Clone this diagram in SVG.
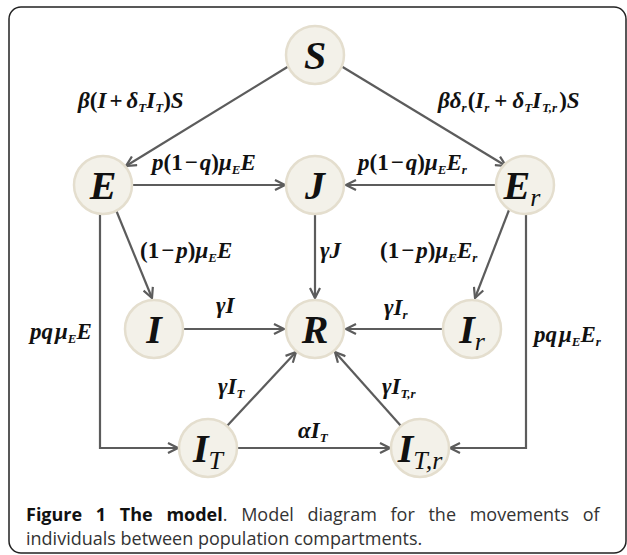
<svg xmlns="http://www.w3.org/2000/svg" width="627" height="555" viewBox="0 0 627 555">
<style>
.frame{fill:#fff;stroke:#222;stroke-width:1.5}
.node{fill:#f3f1e9;stroke:#e4dece;stroke-width:2.5}
.nl{font-family:"Liberation Serif",serif;font-weight:bold;font-style:italic;font-size:40px;fill:#111;text-anchor:middle}
.ns{font-size:26px;font-weight:normal}
.ed{fill:none;stroke:#5c5c5c;stroke-width:2.2}
.lb{font-family:"Liberation Serif",serif;font-weight:bold;font-style:italic;font-size:23px;fill:#111}
.up{font-style:normal}
.sb{font-size:13px}
.cap{font-family:"Open Sans","Noto Sans",sans-serif;font-size:18px;fill:#333}
.capb{font-weight:bold;fill:#111}
</style>
<defs>
<marker id="ah" viewBox="0 0 12 12" refX="11" refY="6" markerWidth="12" markerHeight="12" markerUnits="userSpaceOnUse" orient="auto">
<path d="M1,1 L11,6 L1,11" fill="none" stroke="#5c5c5c" stroke-width="2.2"/>
</marker>
</defs>
<rect class="frame" x="9" y="7" width="617" height="546" rx="12"/>
<g id="connectors">
<path class="ed" d="M289,66 L126,166" marker-end="url(#ah)"/>
<path class="ed" d="M341,66 L506,166" marker-end="url(#ah)"/>
<path class="ed" d="M132,185 L285,185" marker-end="url(#ah)"/>
<path class="ed" d="M496,185 L346,185" marker-end="url(#ah)"/>
<path class="ed" d="M116,210 L152,298" marker-end="url(#ah)"/>
<path class="ed" d="M509,210 L475,298" marker-end="url(#ah)"/>
<path class="ed" d="M315,214 L315,298" marker-end="url(#ah)"/>
<path class="ed" d="M183,329 L284,329" marker-end="url(#ah)"/>
<path class="ed" d="M443,329 L346,329" marker-end="url(#ah)"/>
<path class="ed" d="M227,426 L296,352" marker-end="url(#ah)"/>
<path class="ed" d="M401,426 L335,352" marker-end="url(#ah)"/>
<path class="ed" d="M237,448 L390,448" marker-end="url(#ah)"/>
<path class="ed" d="M100,214 L100,448 L178,448" marker-end="url(#ah)"/>
<path class="ed" d="M526,214 L526,448 L450,448" marker-end="url(#ah)"/>
</g>
<g id="labels">
<text class="lb" x="78" y="108">β<tspan class="up">(</tspan>I<tspan class="up" dx="3">+</tspan><tspan dx="4">δ</tspan><tspan class="sb" dy="4">T</tspan><tspan dy="-4">I</tspan><tspan class="sb" dy="4">T</tspan><tspan class="up" dy="-4">)</tspan>S</text>
<text class="lb" x="438" y="108">βδ<tspan class="sb" dy="4">r</tspan><tspan class="up" dy="-4" dx="1">(</tspan>I<tspan class="sb" dy="4">r</tspan><tspan class="up" dy="-4" dx="5">+</tspan><tspan dx="5">δ</tspan><tspan class="sb" dy="4">T</tspan><tspan dy="-4">I</tspan><tspan class="sb" dy="4" dx="1">T,r</tspan><tspan class="up" dy="-4" dx="2">)</tspan>S</text>
<text class="lb" x="152" y="170">p<tspan class="up">(1<tspan dx="2">−</tspan></tspan><tspan dx="2">q</tspan><tspan class="up">)</tspan>μ<tspan class="sb" dy="4">E</tspan><tspan dy="-4">E</tspan></text>
<text class="lb" x="358" y="170">p<tspan class="up">(1<tspan dx="2">−</tspan></tspan><tspan dx="2">q</tspan><tspan class="up">)</tspan>μ<tspan class="sb" dy="4">E</tspan><tspan dy="-4">E</tspan><tspan class="sb" dy="4">r</tspan></text>
<text class="lb" x="140" y="258"><tspan class="up">(1<tspan dx="2">−</tspan></tspan><tspan dx="2">p</tspan><tspan class="up">)</tspan>μ<tspan class="sb" dy="4">E</tspan><tspan dy="-4">E</tspan></text>
<text class="lb" x="320" y="258">γJ</text>
<text class="lb" x="380" y="258"><tspan class="up">(1<tspan dx="2">−</tspan></tspan><tspan dx="2">p</tspan><tspan class="up">)</tspan>μ<tspan class="sb" dy="4">E</tspan><tspan dy="-4">E</tspan><tspan class="sb" dy="4">r</tspan></text>
<text class="lb" x="216" y="313">γI</text>
<text class="lb" x="384" y="315">γI<tspan class="sb" dy="4">r</tspan></text>
<text class="lb" x="30" y="339">pq<tspan dx="2">μ</tspan><tspan class="sb" dy="4">E</tspan><tspan dy="-4">E</tspan></text>
<text class="lb" x="534" y="342">pq<tspan dx="2">μ</tspan><tspan class="sb" dy="4">E</tspan><tspan dy="-4">E</tspan><tspan class="sb" dy="4">r</tspan></text>
<text class="lb" x="218" y="394">γI<tspan class="sb" dy="4">T</tspan></text>
<text class="lb" x="382" y="394">γI<tspan class="sb" dy="4">T,r</tspan></text>
<text class="lb" x="298" y="438">αI<tspan class="sb" dy="4">T</tspan></text>
</g>
<g id="S"><circle class="node" cx="315" cy="55" r="29"/><text class="nl" x="315" y="69">S</text></g>
<g id="E"><circle class="node" cx="103" cy="185" r="29"/><text class="nl" x="103" y="199">E</text></g>
<g id="J"><circle class="node" cx="315" cy="185" r="29"/><text class="nl" x="315" y="199">J</text></g>
<g id="Er"><circle class="node" cx="525" cy="185" r="29"/><text class="nl" x="522" y="199">E<tspan class="ns" dy="7">r</tspan></text></g>
<g id="I"><circle class="node" cx="154" cy="329" r="29"/><text class="nl" x="154" y="343">I</text></g>
<g id="R"><circle class="node" cx="315" cy="329" r="29"/><text class="nl" x="315" y="343">R</text></g>
<g id="Ir"><circle class="node" cx="472" cy="329" r="29"/><text class="nl" x="472" y="343">I<tspan class="ns" dy="7">r</tspan></text></g>
<g id="IT"><circle class="node" cx="208" cy="448" r="29"/><text class="nl" x="208" y="462">I<tspan class="ns" dy="7">T</tspan></text></g>
<g id="ITr"><circle class="node" cx="420" cy="448" r="29"/><text class="nl" x="420" y="462">I<tspan class="ns" dy="7">T,r</tspan></text></g>
<g id="caption">
<text class="cap" x="26" y="521" word-spacing="9"><tspan class="capb">Figure 1 The model</tspan>. Model diagram for the movements of</text>
<text class="cap" x="26" y="545">individuals between population compartments.</text>
</g>
</svg>
